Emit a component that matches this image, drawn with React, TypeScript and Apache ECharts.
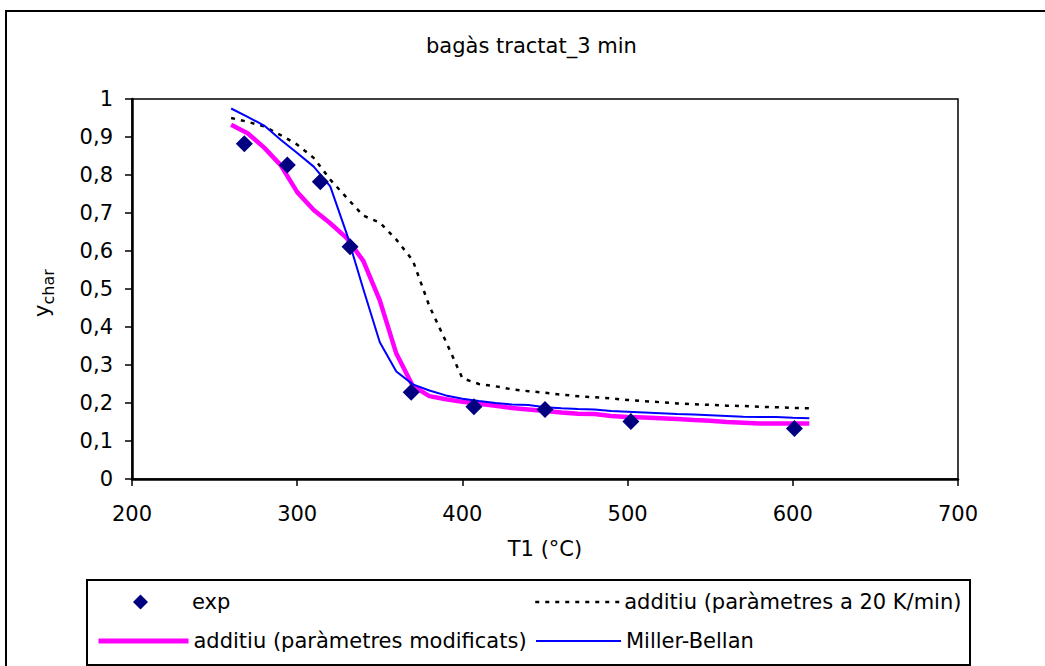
import React, { useEffect, useRef } from "react";
import * as echarts from "echarts";

const titleText = "bagàs tractat_3 min";
const xName = "T1 (°C)";
const seriesNames = [
  "exp",
  "additiu (paràmetres a 20 K/min)",
  "additiu (paràmetres modificats)",
  "Miller-Bellan",
];

const expT = [268, 294, 314, 332, 369, 407, 450, 502, 601];
const expY = [0.882, 0.826, 0.782, 0.611, 0.228, 0.19, 0.183, 0.151, 0.133];

const modelT = [
  260, 270, 280, 290, 300, 310, 320, 330, 340, 350, 360, 370, 380, 390, 400, 410, 420, 430,
  440, 450, 460, 470, 480, 490, 500, 510, 520, 530, 540, 550, 560, 570, 580, 590, 600, 610,
];
const add20Y = [
  0.95, 0.94, 0.928, 0.905, 0.88, 0.845, 0.788, 0.74, 0.693, 0.675, 0.63, 0.575, 0.455, 0.362,
  0.265, 0.25, 0.244, 0.236, 0.231, 0.227, 0.222, 0.218, 0.215, 0.212, 0.208, 0.205, 0.202,
  0.199, 0.197, 0.195, 0.193, 0.192, 0.19, 0.189, 0.187, 0.186,
];
const addModY = [
  0.932, 0.91, 0.872, 0.826, 0.755, 0.708, 0.673, 0.634, 0.574, 0.47, 0.33, 0.245, 0.218, 0.21,
  0.203, 0.198, 0.193, 0.187, 0.183, 0.179, 0.175, 0.172, 0.171, 0.166, 0.163, 0.162, 0.16,
  0.158, 0.155, 0.153, 0.15, 0.148, 0.146, 0.146, 0.146, 0.146,
];
const millerY = [
  0.975, 0.953, 0.93, 0.893, 0.858, 0.822, 0.77, 0.645, 0.5, 0.36, 0.283, 0.249, 0.233, 0.22,
  0.211, 0.205, 0.2, 0.196, 0.195, 0.189, 0.186, 0.184, 0.183, 0.179, 0.177, 0.175, 0.173,
  0.171, 0.17, 0.168, 0.166, 0.164, 0.163, 0.163, 0.161, 0.16,
];

const FONT = "DejaVu Sans";

function pairs(xs: number[], ys: number[]) {
  return xs.map((x, i) => [x, ys[i]]);
}

export default function App() {
  const ref = useRef<HTMLDivElement>(null);
  useEffect(() => {
    if (!ref.current) return;
    const chart = echarts.init(ref.current, null, { renderer: "svg" });
    const legendText = { color: "#000", fontFamily: FONT, fontSize: 21, lineHeight: 24 };
    const legendBase = {
      orient: "horizontal",
      padding: 0,
      itemHeight: 15,
      textStyle: legendText,
      selectedMode: false,
    };
    const lineLegend = {
      ...legendBase,
      itemStyle: { opacity: 0, borderWidth: 0 },
    };
    chart.setOption({
      animation: false,
      backgroundColor: "#fff",
      title: {
        text: titleText,
        left: 426,
        top: 34,
        padding: 0,
        textStyle: { color: "#000", fontFamily: FONT, fontSize: 21, fontWeight: "normal", lineHeight: 24 },
      },
      grid: {
        left: 132,
        right: 87,
        top: 99,
        bottom: 187,
        show: true,
        borderColor: "#000",
        borderWidth: 1.5,
        backgroundColor: "transparent",
      },
      xAxis: {
        type: "value",
        min: 200,
        max: 700,
        interval: 100,
        name: xName,
        nameLocation: "middle",
        nameGap: 59,
        nameTextStyle: { color: "#000", fontFamily: FONT, fontSize: 21 },
        axisLine: { show: true, lineStyle: { color: "#000", width: 2.5 } },
        axisTick: { show: true, inside: false, length: 7, lineStyle: { color: "#000", width: 1.5 } },
        axisLabel: { color: "#000", fontFamily: FONT, fontSize: 21, margin: 24 },
        splitLine: { show: false },
      },
      yAxis: {
        type: "value",
        min: 0,
        max: 1,
        interval: 0.1,
        axisLine: { show: true, lineStyle: { color: "#000", width: 2.5 } },
        axisTick: { show: true, inside: false, length: 7, lineStyle: { color: "#000", width: 1.5 } },
        axisLabel: {
          color: "#000",
          fontFamily: FONT,
          fontSize: 21,
          margin: 19,
          formatter: (v: number) =>
            v === 0 ? "0" : v === 1 ? "1" : v.toFixed(1).replace(".", ","),
        },
        splitLine: { show: false },
      },
      legend: [
        {
          ...legendBase,
          data: [{ name: seriesNames[0], icon: "diamond" }],
          left: 133,
          top: 590,
          itemWidth: 15,
          itemStyle: { color: "#000080", opacity: 1 },
          textStyle: { ...legendText, padding: [0, 0, 0, 39] },
        },
        {
          ...lineLegend,
          data: [seriesNames[1]],
          left: 534,
          top: 590,
          itemWidth: 84,
          lineStyle: { color: "#000", width: 2.5, type: [4, 6] },
        },
        {
          ...lineLegend,
          data: [seriesNames[2]],
          left: 96,
          top: 629,
          itemWidth: 90,
          lineStyle: { color: "#ff00ff", width: 5 },
        },
        {
          ...lineLegend,
          data: [seriesNames[3]],
          left: 535,
          top: 629,
          itemWidth: 85,
          lineStyle: { color: "#0000ff", width: 2 },
        },
      ],
      graphic: [
        {
          type: "rect",
          shape: { x: 6, y: 11, width: 1200, height: 800 },
          style: { fill: "none", stroke: "#000", lineWidth: 2 },
          silent: true,
        },
        {
          type: "rect",
          shape: { x: 87, y: 580, width: 883, height: 85 },
          style: { fill: "none", stroke: "#000", lineWidth: 2 },
          silent: true,
        },
        {
          type: "group",
          x: 0,
          y: 293,
          rotation: Math.PI / 2,
          children: [
            {
              type: "text",
              x: -24,
              y: 42,
              style: { text: "y", fill: "#000", font: `21px "${FONT}"`, align: "left", verticalAlign: "middle" },
            },
            {
              type: "text",
              x: -11.5,
              y: 48,
              style: { text: "char", fill: "#000", font: `16px "${FONT}"`, align: "left", verticalAlign: "middle" },
            },
          ],
        },
      ],
      series: [
        {
          name: seriesNames[1],
          type: "line",
          data: pairs(modelT, add20Y),
          showSymbol: false,
          symbol: "none",
          lineStyle: { color: "#000", width: 2.5, type: [4, 6] },
          itemStyle: { color: "#000" },
          z: 2,
        },
        {
          name: seriesNames[2],
          type: "line",
          data: pairs(modelT, addModY),
          showSymbol: false,
          symbol: "none",
          lineStyle: { color: "#ff00ff", width: 4.5 },
          itemStyle: { color: "#ff00ff" },
          z: 3,
        },
        {
          name: seriesNames[3],
          type: "line",
          data: pairs(modelT, millerY),
          showSymbol: false,
          symbol: "none",
          lineStyle: { color: "#0000ff", width: 2 },
          itemStyle: { color: "#0000ff" },
          z: 4,
        },
        {
          name: seriesNames[0],
          type: "scatter",
          data: pairs(expT, expY),
          symbol: "diamond",
          symbolSize: 17,
          itemStyle: { color: "#000080", opacity: 1 },
          z: 5,
        },
      ],
    });
    return () => chart.dispose();
  }, []);
  return (
    <div
      ref={ref}
      style={{ position: "absolute", left: 0, top: 0, width: 1045, height: 666 }}
    />
  );
}
